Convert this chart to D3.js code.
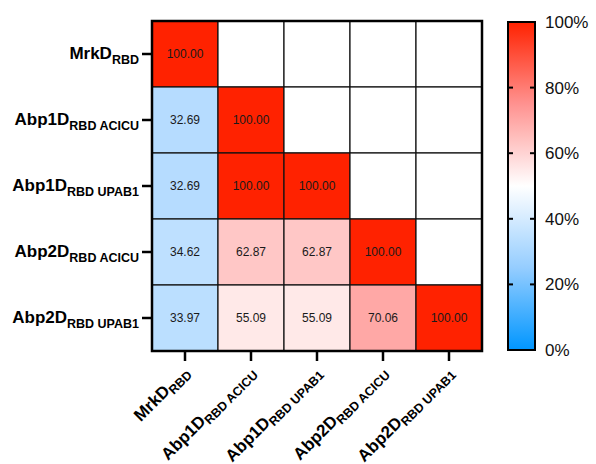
<!DOCTYPE html>
<html><head><meta charset="utf-8">
<script src="https://cdn.jsdelivr.net/npm/d3@7"></script>
<style>body{margin:0;background:#fff}</style>
</head><body>
<svg id="c" width="596" height="464"></svg>
<script>
const names = ["MrkD","Abp1D","Abp1D","Abp2D","Abp2D"];
const subs = ["RBD","RBD ACICU","RBD UPAB1","RBD ACICU","RBD UPAB1"];
// lower-triangular matrix of identity values (row i, column j<=i)
const matrix = [
  [100.00],
  [32.69, 100.00],
  [32.69, 100.00, 100.00],
  [34.62, 62.87, 62.87, 100.00],
  [33.97, 55.09, 55.09, 70.06, 100.00]
];
const legendTicks = [0,20,40,60,80,100];

const svg = d3.select("#c");
const font = "'Liberation Sans', Arial, sans-serif";
const L=152, T=21, S=330;
const idx = d3.range(names.length);
const x = d3.scaleBand().domain(idx).range([L, L+S]);
const y = d3.scaleBand().domain(idx).range([T, T+S]);
const color = d3.scaleLinear().domain([0,25,50,75,100])
  .range(["#0096ff","#95cdff","#ffffff","#ff9290","#ff2200"]);

const cells = [];
idx.forEach(i=>idx.forEach(j=>{ cells.push({i,j,v: j<=i ? matrix[i][j] : null}); }));

svg.append("g").selectAll("rect").data(cells).join("rect")
  .attr("x",d=>x(d.j)).attr("y",d=>y(d.i))
  .attr("width",x.bandwidth()).attr("height",y.bandwidth())
  .attr("fill",d=>d.v==null?"#fff":color(d.v))
  .attr("stroke","#111").attr("stroke-width",1.2);

svg.append("g").selectAll("text").data(cells.filter(d=>d.v!=null)).join("text")
  .attr("x",d=>x(d.j)+x.bandwidth()/2).attr("y",d=>y(d.i)+y.bandwidth()/2+4)
  .attr("text-anchor","middle").attr("font-family",font).attr("font-size",12)
  .attr("fill","#1a1a1a").text(d=>d.v.toFixed(2));

svg.append("rect").attr("x",L).attr("y",T).attr("width",S).attr("height",S)
  .attr("fill","none").attr("stroke","#000").attr("stroke-width",2.5);

// y axis
const yAxis = svg.append("g").attr("transform",`translate(${L-1},0)`)
  .call(d3.axisLeft(y).tickSize(9).tickFormat(""));
yAxis.select(".domain").remove();
yAxis.selectAll("line").attr("stroke","#000").attr("stroke-width",2.5);
idx.forEach(i=>{
  const t = svg.append("text").attr("x",139).attr("y",y(i)+y.bandwidth()/2+5)
    .attr("text-anchor","end").attr("font-family",font).attr("font-weight","bold").attr("fill","#000");
  t.append("tspan").attr("font-size",17).text(names[i]);
  t.append("tspan").attr("font-size",12.5).attr("dy",5).text(subs[i]);
});

// x axis
const xAxis = svg.append("g").attr("transform",`translate(0,${T+S+1})`)
  .call(d3.axisBottom(x).tickSize(9).tickFormat(""));
xAxis.select(".domain").remove();
xAxis.selectAll("line").attr("stroke","#000").attr("stroke-width",2.5);
idx.forEach(i=>{
  const cx = x(i)+x.bandwidth()/2 + 5, cy = T+S+22;
  const t = svg.append("text").attr("transform",`translate(${cx},${cy}) rotate(-45)`)
    .attr("text-anchor","end").attr("font-family",font).attr("font-weight","bold").attr("fill","#000");
  t.append("tspan").attr("font-size",17).text(names[i]);
  t.append("tspan").attr("font-size",12.5).attr("dy",4).text(subs[i]);
});

// legend
const defs = svg.append("defs");
const grad = defs.append("linearGradient").attr("id","g").attr("x1",0).attr("y1",1).attr("x2",0).attr("y2",0);
d3.range(0,101,5).forEach(v=>grad.append("stop").attr("offset",v+"%").attr("stop-color",color(v)));
const LX=508, LW=27, LT=22, LB=350;
const ly = d3.scaleLinear().domain([0,100]).range([LB,LT]);
svg.append("rect").attr("x",LX).attr("y",LT).attr("width",LW).attr("height",LB-LT)
  .attr("fill","url(#g)").attr("stroke","#000").attr("stroke-width",2);
const lg = svg.append("g");
lg.selectAll("line.l").data(legendTicks.slice(1,-1)).join("line")
  .attr("x1",LX).attr("x2",LX+5).attr("y1",d=>ly(d)).attr("y2",d=>ly(d)).attr("stroke","#000").attr("stroke-width",2);
lg.selectAll("line.r").data(legendTicks.slice(1,-1)).join("line")
  .attr("x1",LX+LW-5).attr("x2",LX+LW).attr("y1",d=>ly(d)).attr("y2",d=>ly(d)).attr("stroke","#000").attr("stroke-width",2);
lg.selectAll("text").data(legendTicks).join("text")
  .attr("x",545).attr("y",d=>ly(d)+6).attr("font-family",font).attr("font-size",17).attr("fill","#111")
  .text(d=>d+"%");
</script>
</body></html>
